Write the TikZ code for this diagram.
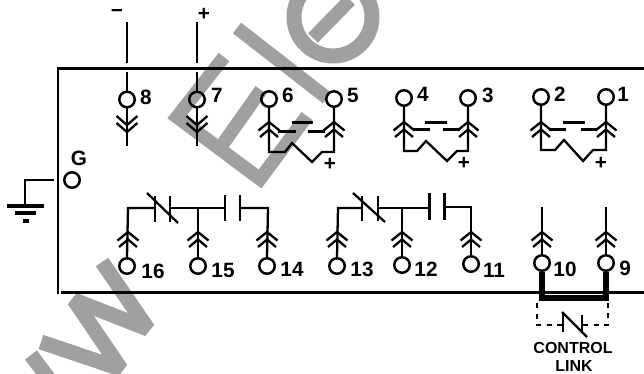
\documentclass[tikz,border=0pt]{standalone}
\usepackage{fontspec}
\setmainfont{Liberation Sans}
\definecolor{wmgray}{RGB}{160,160,160}
\tikzset{
  term/.style={draw,circle,line width=1.4pt,minimum size=0.31cm,inner sep=0pt},
  wire/.style={line width=1.3pt},
  heavy/.style={line width=1.7pt},
  num/.style={inner sep=0pt,font=\fontsize{11.8}{12}\selectfont\bfseries},
  wm/.style={draw=wmgray,line width=0.27cm},
  plugup/.pic={\draw[wire] (-10.5,8.5) -- (0,0) -- (10.5,8.5) (-9,15) -- (0,7.5) -- (9,15);},
  plugdown/.pic={\draw[wire] (-10.5,-9) -- (0,0) -- (10.5,-9) (-10.5,-2) -- (0,7) -- (10.5,-2);}
}
\begin{document}
\begin{tikzpicture}[x=0.02cm,y=-0.02cm]
\useasboundingbox (0,0) rectangle (644,373);

%Watermark
\draw[wm,line width=0.3cm,line join=bevel] (102,262) -- (148,329) -- (74,300) -- (121,369) -- (41,342);
\draw[wm,line width=0.3cm] (31,355) -- (52,383);
\draw[wm] (224,57) -- (177,117) -- (260,179) -- (307,116);
\draw[wm] (220,148) -- (261,90);
\draw[wm] (237,28) -- (327,98);
\draw[wm,line width=0.3cm] (333,17) circle (39);
\draw[wm] (313,38) -- (350,0);

%Box
\coordinate (boxtl) at (57,68.5);
\coordinate (boxtr) at (644,68.5);
\coordinate (boxl) at (58,68.5);
\coordinate (boxbl) at (58,294);
\coordinate (boxb) at (61,292.5);
\coordinate (boxbr) at (644,292.5);
\draw[line width=1.5pt] (boxtl) -- (boxtr);
\draw[line width=1.5pt] (boxl) -- (boxbl);
\draw[line width=1.5pt] (boxb) -- (boxbr);

%Ground
\node[term] (tg) at (72,180){};
\node[num] (lg) at (79,158){G};
\coordinate (g1) at (54,180);
\coordinate (g2) at (25,180);
\coordinate (g3) at (25,206);
\coordinate (g4) at (7,206);
\coordinate (g5) at (44,206);
\coordinate (g6) at (15,213);
\coordinate (g7) at (36,213);
\coordinate (g8) at (23,221);
\coordinate (g9) at (29,221);
\draw[wire] (g1) -- (g2) -- (g3);
\draw[line width=2pt] (g4) -- (g5);
\draw[line width=2pt] (g6) -- (g7);
\draw[line width=2pt] (g8) -- (g9);

%%%%%%%%%%%%%%%%%Top row%%%%%%%%%%%%%%
\node[term] (t8) at (127,99.5){};
\node[term] (t7) at (197,99.5){};
\node[term] (t6) at (269,99){};
\node[term] (t5) at (334,99){};
\node[term] (t4) at (404,98){};
\node[term] (t3) at (468,98){};
\node[term] (t2) at (541,97){};
\node[term] (t1) at (606,97){};

\node[num] (l8) at (146,97){8};
\node[num] (l7) at (217,95){7};
\node[num] (l6) at (288,95){6};
\node[num] (l5) at (353,95){5};
\node[num] (l4) at (423,94){4};
\node[num] (l3) at (488,95){3};
\node[num] (l2) at (560,94){2};
\node[num] (l1) at (623,94){1};

%Minus lead
\node[num] (lminus) at (117,13){−};
\coordinate (m1) at (127,22);
\coordinate (m2) at (127,63);
\coordinate (m3) at (127,72);
\coordinate (m4) at (127,146);
\draw[heavy] (m1) -- (m2);
\draw[heavy] (m3) -- (t8.north);
\draw[wire] (t8.south) -- (m4);
\pic at (127,125) {plugdown};

%Plus lead
\node[num] (lplus) at (204,14){+};
\coordinate (p1) at (197,22);
\coordinate (p2) at (197,63);
\coordinate (p3) at (197,72);
\coordinate (p4) at (197,146);
\draw[heavy] (p1) -- (p2);
\draw[heavy] (p3) -- (t7.north);
\draw[wire] (t7.south) -- (p4);
\pic at (197,125) {plugdown};

%Contact 6-5
\coordinate (a1) at (269,152);
\coordinate (a2) at (285,152);
\coordinate (a3) at (292,143);
\coordinate (a4) at (312,162);
\coordinate (a5) at (322,152);
\coordinate (a6) at (334,152);
\draw[wire] (t6.south) -- (a1) -- (a2) -- (a3) -- (a4) -- (a5) -- (a6) -- (t5.south);
\pic at (269,122) {plugup};
\pic at (334,122) {plugup};
\draw[heavy] (278,131) -- (296,131);
\draw[heavy] (292,122.5) -- (313,122.5);
\draw[heavy] (308,131) -- (325,131);
\node[num] (pa) at (330,164){+};

%Contact 4-3
\coordinate (b1) at (404,151);
\coordinate (b2) at (417,151);
\coordinate (b3) at (426,141);
\coordinate (b4) at (447,161);
\coordinate (b5) at (457,151);
\coordinate (b6) at (468,151);
\draw[wire] (t4.south) -- (b1) -- (b2) -- (b3) -- (b4) -- (b5) -- (b6) -- (t3.south);
\pic at (404,122) {plugup};
\pic at (468,122) {plugup};
\draw[heavy] (413,129.5) -- (430,129.5);
\draw[heavy] (425,122) -- (447,122);
\draw[heavy] (443,129.5) -- (460,129.5);
\node[num] (pb) at (464,163){+};

%Contact 2-1
\coordinate (c1) at (541,150);
\coordinate (c2) at (555,150);
\coordinate (c3) at (564,140);
\coordinate (c4) at (583,161);
\coordinate (c5) at (593,150);
\coordinate (c6) at (606,150);
\draw[wire] (t2.south) -- (c1) -- (c2) -- (c3) -- (c4) -- (c5) -- (c6) -- (t1.south);
\pic at (541,122) {plugup};
\pic at (606,122) {plugup};
\draw[heavy] (549,129) -- (566,129);
\draw[heavy] (563,122) -- (585,122);
\draw[heavy] (581,129) -- (597,129);
\node[num] (pc) at (601,163){+};

%%%%%%%%%%%%%%%%%Bottom row%%%%%%%%%%%%%%
\node[term] (t16) at (127,266){};
\node[term] (t15) at (198,266){};
\node[term] (t14) at (267,266){};
\node[term] (t13) at (337,266){};
\node[term] (t12) at (402,265){};
\node[term] (t11) at (471,264){};
\node[term] (t10) at (542,263){};
\node[term] (t9) at (606,263){};

\node[num] (l16) at (153,271){16};
\node[num] (l15) at (223,270){15};
\node[num] (l14) at (292,269){14};
\node[num] (l13) at (362,269){13};
\node[num] (l12) at (426,269){12};
\node[num] (l11) at (494,270){11};
\node[num] (l10) at (565,269){10};
\node[num] (l9) at (625,268){9};

%Contacts 16-15-14
\coordinate (d1) at (128,208);
\coordinate (d2) at (155,208);
\coordinate (d3) at (170,208);
\coordinate (d4) at (225,208);
\coordinate (d5) at (240,208);
\coordinate (d6) at (268,208);
\coordinate (d7) at (198,208);
\draw[wire] (t16.north) -- (d1) -- (d2);
\draw[wire] (d3) -- (d4);
\draw[wire] (d5) -- (d6) -- (t14.north);
\draw[wire] (d7) -- (t15.north);
\draw[wire] (155,196) -- (155,222);
\draw[wire] (170,196) -- (170,222);
\draw[wire] (147,193) -- (178,223);
\draw[heavy] (225,195) -- (225,221);
\draw[heavy] (240,195) -- (240,221);
\pic at (128,232) {plugup};
\pic at (198,232) {plugup};
\pic at (267,232) {plugup};

%Contacts 13-12-11
\coordinate (e1) at (338,208);
\coordinate (e2) at (362,208);
\coordinate (e3) at (378,208);
\coordinate (e4) at (429,208);
\coordinate (e5) at (444,207);
\coordinate (e6) at (471,207);
\coordinate (e7) at (402,208);
\draw[wire] (t13.north) -- (e1) -- (e2);
\draw[wire] (e3) -- (e4);
\draw[wire] (e5) -- (e6) -- (t11.north);
\draw[wire] (e7) -- (t12.north);
\draw[wire] (362,196) -- (362,221);
\draw[wire] (378,196) -- (378,221);
\draw[wire] (353,193) -- (385,222);
\draw[heavy] (429,193) -- (429,220);
\draw[heavy] (444,193) -- (444,220);
\pic at (337,232) {plugup};
\pic at (402,232) {plugup};
\pic at (471,232) {plugup};

%Terminals 10 and 9
\coordinate (f1) at (542,207);
\coordinate (f2) at (606,207);
\coordinate (f3) at (542,298);
\coordinate (f4) at (606,298);
\draw[wire] (f1) -- (t10.north);
\draw[wire] (f2) -- (t9.north);
\draw[line width=3pt] (t10.south) -- (f3) -- (f4) -- (t9.south);
\pic at (542,232) {plugup};
\pic at (606,232) {plugup};

%Control link
\coordinate (h1) at (537,303);
\coordinate (h2) at (537,325);
\coordinate (h3) at (562,325);
\coordinate (h4) at (583,325);
\coordinate (h5) at (608,325);
\coordinate (h6) at (608,303);
\draw[dashed,line width=0.8pt] (h1) -- (h2) -- (h3);
\draw[dashed,line width=0.8pt] (h4) -- (h5) -- (h6);
\draw[wire] (563,313) -- (563,332);
\draw[wire] (582,315) -- (582,333);
\draw[wire] (562,312) -- (587,337);
\node[inner sep=0pt,font=\fontsize{9.1}{10}\selectfont\bfseries] (lcontrol) at (573,348){CONTROL};
\node[inner sep=0pt,font=\fontsize{9.1}{10}\selectfont\bfseries] (llink) at (574,365.5){LINK};
\end{tikzpicture}
\end{document}
